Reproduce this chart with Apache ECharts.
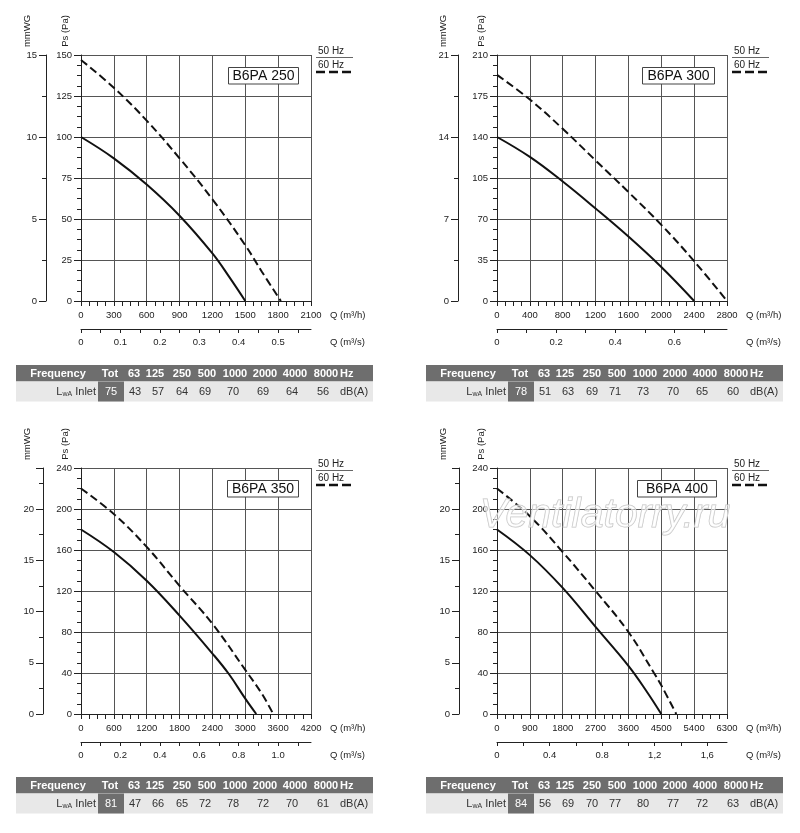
<!DOCTYPE html>
<html>
<head>
<meta charset="utf-8">
<title>B6PA fan curves</title>
<script src="https://cdn.jsdelivr.net/npm/echarts@6.0.0/dist/echarts.min.js"></script>
<style>
  html, body { margin: 0; padding: 0; background: #fff; }
  #chart { width: 800px; height: 833px; }
</style>
</head>
<body>
<div id="chart"></div>
<script>
// fan models, one panel each
const models = ["B6PA 250", "B6PA 300", "B6PA 350", "B6PA 400"];

// axis ranges per panel
const qMax = [2100, 2800, 4200, 6300];
const qStep = [300, 400, 600, 900];
const psMax = [150, 210, 240, 240];
const psStep = [25, 35, 40, 40];
const mmStep = [5, 7, 5, 5];
const qsStep = [0.1, 0.2, 0.2, 0.4];
const qsLabels = [
    ["0", "0.1", "0.2", "0.3", "0.4", "0.5"],
    ["0", "0.2", "0.4", "0.6"],
    ["0", "0.2", "0.4", "0.6", "0.8", "1.0"],
    ["0", "0.4", "0.8", "1,2", "1,6"],
];

// curves as [Q m3/h, Ps Pa]
const b250_50 = [[0, 100], [300, 87], [600, 71], [900, 52], [1200, 29], [1350, 15], [1500, 0]];
const b250_60 = [[0, 147], [300, 130], [600, 110], [900, 87], [1200, 62], [1500, 34], [1650, 18], [1825, 0]];
const b300_50 = [[0, 140], [400, 123], [800, 102], [1200, 79], [1600, 55], [2000, 29], [2400, 0]];
const b300_60 = [[0, 193], [400, 172], [800, 147], [1200, 120], [1600, 93], [2000, 65], [2400, 34], [2800, 0]];
const b350_50 = [[0, 180], [600, 158], [1200, 130], [1800, 96], [2400, 59], [2700, 39], [3000, 15], [3200, 0]];
const b350_60 = [[0, 220], [600, 195], [1200, 163], [1800, 125], [2400, 88], [3000, 43], [3300, 20], [3510, 0]];
const b400_50 = [[0, 180], [900, 155], [1800, 123], [2700, 85], [3600, 47], [4100, 22], [4500, 0]];
const b400_60 = [[0, 220], [900, 193], [1800, 158], [2700, 120], [3600, 80], [4300, 40], [4500, 28], [4910, 0]];
const curves50 = [b250_50, b300_50, b350_50, b400_50];
const curves60 = [b250_60, b300_60, b350_60, b400_60];

// sound power table
const bands = ["63", "125", "250", "500", "1000", "2000", "4000", "8000"];
const lwaTot = [75, 78, 81, 84];
const lwa250 = [43, 57, 64, 69, 70, 69, 64, 56];
const lwa300 = [51, 63, 69, 71, 73, 70, 65, 60];
const lwa350 = [47, 66, 65, 72, 78, 72, 70, 61];
const lwa400 = [56, 69, 70, 77, 80, 77, 72, 63];
const lwaBands = [lwa250, lwa300, lwa350, lwa400];

// layout
const plotLeft = [81, 497, 81, 497];
const plotTop = [55, 55, 468, 468];
const plotW = 230;
const plotH = 246;
const mmOffset = [35, 39, 38, 38];
const boxX = [147, 145, 146, 140];
const boxW = [70, 72, 71, 79];
const tableLeft = [16, 426, 16, 426];
const tableTop = [365, 365, 777, 777];
const headCols = [42, 94, 118, 139, 166, 191, 219, 249, 279, 310];
const rowCols = [95, 119, 142, 166, 189, 217, 247, 276, 307];

const FONT = "'Liberation Sans', Arial, sans-serif";
const INK = "#222";
const GRIDC = "#555";
const HEAD = "#6e6e6e";
const ROW = "#e8e8e8";
const SMALL = 9.5;

const chart = echarts.init(document.getElementById("chart"));

function labelStyle(margin) {
    return { color: INK, fontSize: SMALL, fontFamily: FONT, margin, formatter: (v) => String(v) };
}

function axisLine() {
    return { show: true, onZero: false, lineStyle: { color: INK, width: 1 } };
}

function qhAxis(i) {
    return {
        type: "value", gridIndex: i, position: "bottom",
        min: 0, max: qMax[i], interval: qStep[i],
        axisLine: axisLine(),
        axisTick: { show: true, length: 5, lineStyle: { color: INK } },
        minorTick: { show: true, splitNumber: 4, length: 5, lineStyle: { color: INK } },
        axisLabel: labelStyle(9),
        splitLine: { show: true, lineStyle: { color: GRIDC, width: 1 } },
    };
}

function qsAxis(i) {
    const max = qMax[i] / 3600;
    const step = qsStep[i];
    const ticks = [];
    for (let k = 0; k * step / 2 <= max; k++) {
        ticks.push(+(k * step / 2).toFixed(3));
    }
    const labelValues = qsLabels[i].map((_, k) => +(k * step).toFixed(3));
    return {
        type: "value", gridIndex: i, position: "bottom", offset: 28,
        min: 0, max,
        axisLine: axisLine(),
        axisTick: { show: true, length: 4, customValues: ticks, lineStyle: { color: INK } },
        axisLabel: Object.assign(labelStyle(8), {
            customValues: labelValues,
            formatter: (v) => qsLabels[i][Math.round(v / step)] || "",
        }),
        splitLine: { show: false },
    };
}

function psAxis(i) {
    return {
        type: "value", gridIndex: i, position: "left",
        min: 0, max: psMax[i], interval: psStep[i],
        axisLine: axisLine(),
        axisTick: { show: true, length: 7, lineStyle: { color: INK } },
        minorTick: { show: true, splitNumber: 4, length: 4, lineStyle: { color: INK } },
        axisLabel: labelStyle(9),
        splitLine: { show: true, lineStyle: { color: GRIDC, width: 1 } },
    };
}

function mmAxis(i) {
    return {
        type: "value", gridIndex: i, position: "left", offset: mmOffset[i],
        min: 0, max: psMax[i] / 10, interval: mmStep[i],
        axisLine: axisLine(),
        axisTick: { show: true, length: 7, lineStyle: { color: INK } },
        minorTick: { show: true, splitNumber: 2, length: 4, lineStyle: { color: INK } },
        axisLabel: Object.assign(labelStyle(9), {
            formatter: (v) => (v % mmStep[i] === 0 ? String(v) : ""),
        }),
        splitLine: { show: false },
    };
}

function curve(data, i, dash) {
    return {
        type: "line", xAxisIndex: 2 * i, yAxisIndex: 2 * i,
        data, smooth: 0.4,
        showSymbol: false, silent: true, animation: false,
        lineStyle: { color: "#111", width: 2, type: dash },
    };
}

function txt(x, y, text, extra) {
    return {
        type: "text", x, y, silent: true,
        style: Object.assign({
            text, fill: INK, fontSize: SMALL, fontFamily: FONT,
            align: "left", verticalAlign: "middle",
        }, extra || {}),
    };
}

function panelGraphics(i) {
    const L = plotLeft[i], T = plotTop[i], R = L + plotW, B = T + plotH;
    const els = [];
    // axis names
    els.push(Object.assign(txt(L - 54, T - 24, "mmWG", { align: "center" }), { rotation: Math.PI / 2 }));
    els.push(Object.assign(txt(L - 16, T - 24, "Ps (Pa)", { align: "center" }), { rotation: Math.PI / 2 }));
    els.push(txt(R + 19, B + 14, "Q (m³/h)"));
    els.push(txt(R + 19, B + 41, "Q (m³/s)"));
    // legend
    els.push(txt(R + 7, T - 4, "50 Hz", { fontSize: 10 }));
    els.push({ type: "line", silent: true, shape: { x1: R + 5, y1: T + 2.5, x2: R + 42, y2: T + 2.5 }, style: { stroke: "#666", lineWidth: 1 } });
    els.push(txt(R + 7, T + 10, "60 Hz", { fontSize: 10 }));
    els.push({ type: "line", silent: true, shape: { x1: R + 5, y1: T + 17, x2: R + 42, y2: T + 17 }, style: { stroke: "#111", lineWidth: 2.5, lineDash: [9, 4] } });
    // model box
    els.push({ type: "rect", silent: true, z: 10, shape: { x: L + boxX[i] + 0.5, y: T + 12.5, width: boxW[i], height: 16.5 }, style: { fill: "#fff", stroke: "#444", lineWidth: 1 } });
    els.push(Object.assign(txt(L + boxX[i] + boxW[i] / 2 + 0.5, T + 21, models[i], { align: "center", fontSize: 14, fill: "#111" }), { z: 11 }));
    // sound table
    const x0 = tableLeft[i], y0 = tableTop[i];
    const hh = 16.5, rh = 20;
    els.push({ type: "rect", silent: true, shape: { x: x0, y: y0, width: 357, height: hh }, style: { fill: HEAD } });
    els.push({ type: "rect", silent: true, shape: { x: x0, y: y0 + hh, width: 357, height: rh }, style: { fill: ROW } });
    els.push({ type: "rect", silent: true, shape: { x: x0 + 82, y: y0 + hh, width: 26, height: rh }, style: { fill: HEAD } });
    const head = ["Frequency", "Tot"].concat(bands);
    const hs = { fill: "#fff", fontSize: 11, fontWeight: "bold", align: "center" };
    head.forEach((h, k) => els.push(txt(x0 + headCols[k], y0 + hh / 2 + 0.5, h, hs)));
    els.push(txt(x0 + 324, y0 + hh / 2 + 0.5, "Hz", Object.assign({}, hs, { align: "left" })));
    const ry = y0 + hh + rh / 2;
    els.push(txt(x0 + 80, ry, "{l|L}{s|wA}{l| Inlet}", {
        align: "right", fill: "#333",
        rich: {
            l: { fontSize: 11, fontFamily: FONT, fill: "#333", lineHeight: 13 },
            s: { fontSize: 7, fontFamily: FONT, fill: "#333", verticalAlign: "bottom", lineHeight: 13 },
        },
    }));
    const rs = { fill: "#333", fontSize: 11, align: "center" };
    els.push(txt(x0 + rowCols[0], ry, String(lwaTot[i]), Object.assign({}, rs, { fill: "#fff" })));
    lwaBands[i].forEach((v, k) => els.push(txt(x0 + rowCols[k + 1], ry, String(v), rs)));
    els.push(txt(x0 + 324, ry, "dB(A)", Object.assign({}, rs, { align: "left" })));
    return els;
}

const grids = [], xAxes = [], yAxes = [], series = [], graphics = [];
models.forEach((name, i) => {
    grids.push({ left: plotLeft[i], top: plotTop[i], width: plotW, height: plotH, outerBoundsMode: "none" });
    xAxes.push(qhAxis(i), qsAxis(i));
    yAxes.push(psAxis(i), mmAxis(i));
    series.push(curve(curves50[i], i, "solid"), curve(curves60[i], i, [8, 4]));
    graphics.push(...panelGraphics(i));
});

// site watermark over the last panel
graphics.push({
    type: "text", x: 605, y: 516, z: 100, silent: true,
    style: {
        text: "Ventilatorry.ru", fontSize: 41, fontStyle: "italic", fontFamily: FONT,
        align: "center", verticalAlign: "middle",
        fill: "rgba(255,255,255,0.55)", stroke: "#c0c0c0", lineWidth: 1,
    },
});

chart.setOption({
    animation: false,
    backgroundColor: "#fff",
    grid: grids,
    xAxis: xAxes,
    yAxis: yAxes,
    series,
    graphic: { elements: graphics },
});

window.addEventListener("resize", () => chart.resize());
</script>
</body>
</html>
